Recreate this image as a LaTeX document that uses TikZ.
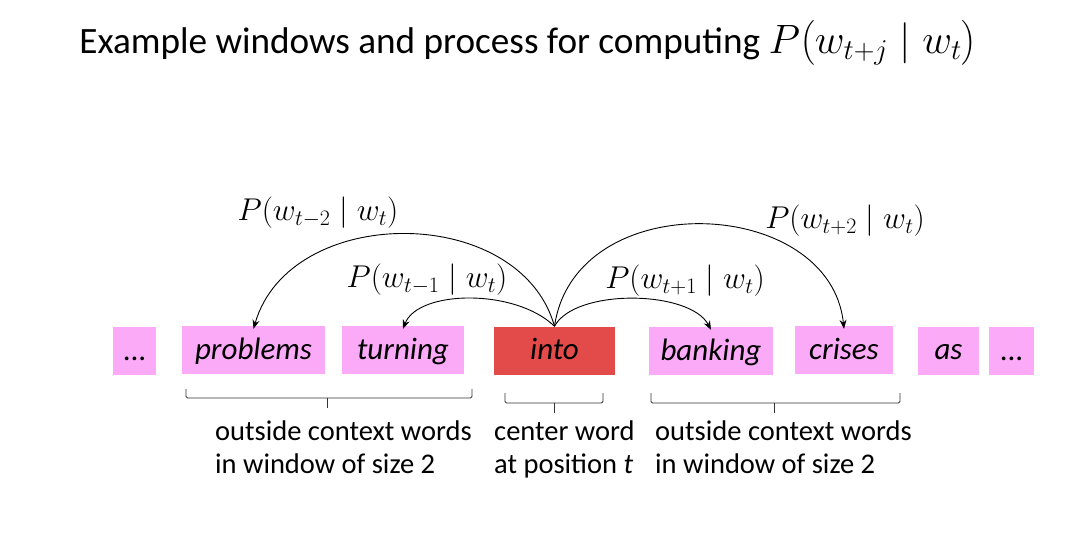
\documentclass[tikz,border=0pt]{standalone}
\usepackage{fix-cm}
\usepackage{amsmath}
\usepackage{fontspec}
\setmainfont{Carlito}
\usepackage{xcolor}
\definecolor{WordCol}{RGB}{250,170,247}
\definecolor{CenterCol}{RGB}{227,74,74}
\usepackage{tikz}
\usetikzlibrary{arrows.meta}
\tikzstyle{Word}=[fill=WordCol,inner sep=0pt,minimum height=48,
text height=22pt,text depth=4pt,font=\fontsize{31}{34}\selectfont\itshape]
\tikzstyle{Center}=[Word,fill=CenterCol]
\tikzstyle{Edge}=[draw=black,line width=0.9pt,-{Stealth[length=9pt,width=7pt]}]
\tikzstyle{Prob}=[inner sep=0pt,font=\fontsize{31.5}{34}\selectfont]
\tikzstyle{Brace}=[draw=black!80,line width=0.9pt,rounded corners=1.5pt]
\tikzstyle{NodeST}=[inner sep=0pt,align=left,anchor=north west,
font=\fontsize{28.5}{33}\selectfont]

\begin{document}
\begin{tikzpicture}[x=1pt,y=-1pt]
    \useasboundingbox(0,0)rectangle(1082,540);
    \node[inner sep=0pt,font=\fontsize{37.2}{40}\selectfont](title)at(528,43)
        {Example windows and process for computing
        {\fontsize{41}{44}\selectfont$P\bigl(w_{t+j}\mid w_t\bigr)$}};
    % the window of words
    \node[Word,minimum width=43](d1)at(134.5,351){\upshape ...};
    \node[Word,minimum width=143](problems)at(253.5,350){problems};
    \node[Word,minimum width=122](turning)at(403,350){turning};
    \node[Center,minimum width=121](into)at(554.5,350.5){into};
    \node[Word,minimum width=124](banking)at(711,351){banking};
    \node[Word,minimum width=98](crises)at(844,350){crises};
    \node[Word,minimum width=61](as)at(948.5,350.5){as};
    \node[Word,minimum width=45](d2)at(1011.5,351){\upshape ...};
    % probabilities
    \node[Prob](pm2)at(318,213){$P(w_{t-2}\mid w_t)$};
    \node[Prob](pm1)at(427,280){$P(w_{t-1}\mid w_t)$};
    \node[Prob](pp1)at(685,281){$P(w_{t+1}\mid w_t)$};
    \node[Prob](pp2)at(845,221){$P(w_{t+2}\mid w_t)$};
    \draw[Edge](into.north)..controls(520,203)and(290,203)..([yshift=-3]problems.north);
    \draw[Edge](into.north)..controls(515,288)and(418,290)..([yshift=-3]turning.north);
    \draw[Edge](into.north)..controls(575,288)and(690,290)..([yshift=-3]banking.north);
    \draw[Edge](into.north)..controls(575,185)and(830,195)..([yshift=-3]crises.north);
    % braces
    \draw[Brace](186,389)--(186,398)--(472,398)--(472,389);
    \draw[Brace](327,398)--(327,408);
    \draw[Brace](505,393)--(505,403)--(603,403)--(603,393);
    \draw[Brace](554,403)--(554,413);
    \draw[Brace](651,393)--(651,403)--(900,403)--(900,393);
    \draw[Brace](774,403)--(774,413);
    \node[NodeST](lefttext)at(215,421){outside context words\\in window of size 2};
    \node[NodeST](midtext)at(494,421){center word\\at position \textit{t}};
    \node[NodeST](righttext)at(655,421){outside context words\\in window of size 2};
\end{tikzpicture}
\end{document}
